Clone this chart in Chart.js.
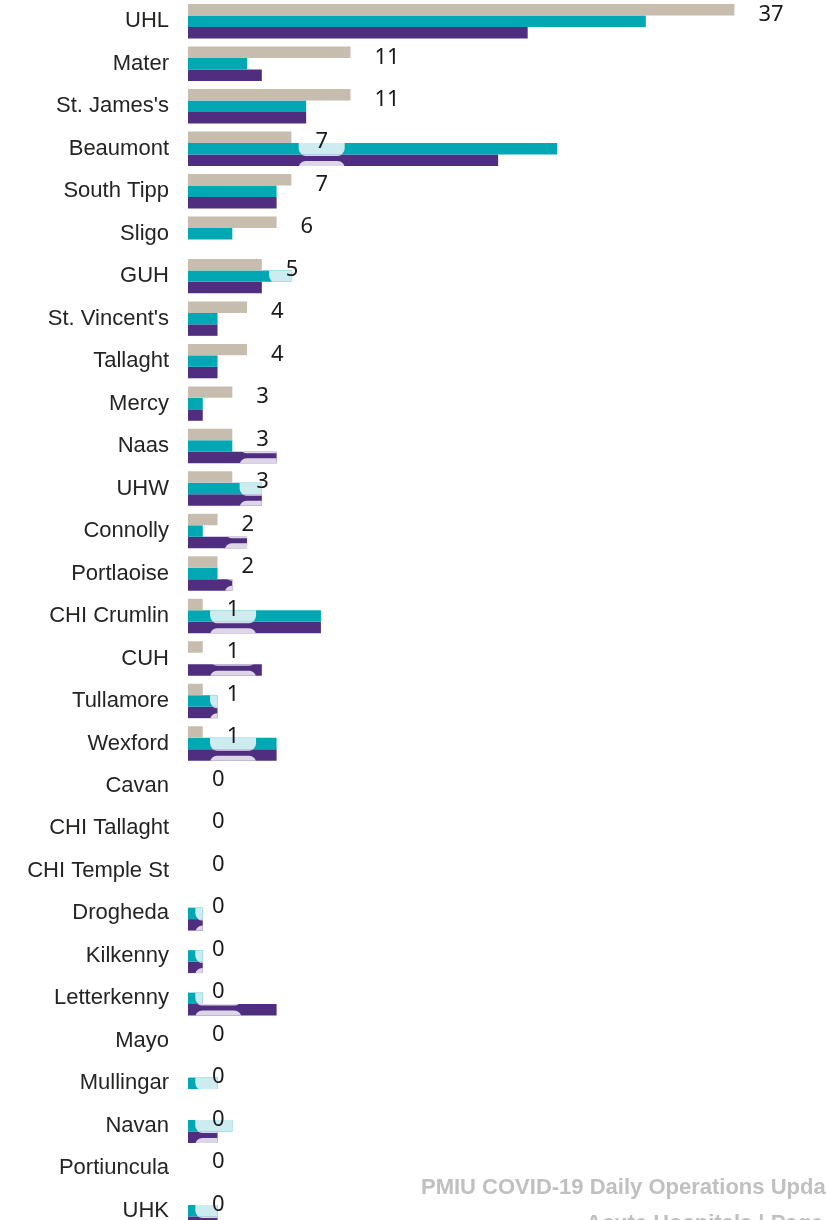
<!DOCTYPE html>
<html>
<head>
<meta charset="utf-8">
<script src="https://cdn.jsdelivr.net/npm/chart.js@4"></script>
<style>
  body { margin: 0; overflow: hidden; background: #fff; }
  #wrap { position: relative; width: 826px; height: 1220px; overflow: hidden; }
  .foot { position: absolute; font: bold 22px "Liberation Sans", Arial, sans-serif; color: #c0c0c0; white-space: nowrap; }
</style>
</head>
<body>
<div id="wrap">
  <canvas id="hospChart" width="826" height="1232"></canvas>
  <div class="foot" style="left:421px;top:1174px">PMIU COVID-19 Daily Operations Update</div>
  <div class="foot" style="left:586px;top:1210px">Acute Hospitals | Page 4</div>
</div>
<script>
const hospitals = ['UHL', 'Mater', "St. James's", 'Beaumont', 'South Tipp', 'Sligo', 'GUH', "St. Vincent's",
  'Tallaght', 'Mercy', 'Naas', 'UHW', 'Connolly', 'Portlaoise', 'CHI Crumlin', 'CUH', 'Tullamore', 'Wexford',
  'Cavan', 'CHI Tallaght', 'CHI Temple St', 'Drogheda', 'Kilkenny', 'Letterkenny', 'Mayo', 'Mullingar',
  'Navan', 'Portiuncula', 'UHK'];
const beigeVals  = [37, 11, 11, 7, 7, 6, 5, 4, 4, 3, 3, 3, 2, 2, 1, 1, 1, 1, 0, 0, 0, 0, 0, 0, 0, 0, 0, 0, 0];
const tealVals   = [31, 4, 8, 25, 6, 3, 7, 2, 2, 1, 3, 5, 1, 2, 9, 0, 2, 6, 0, 0, 0, 1, 1, 1, 0, 2, 3, 0, 2];
const purpleVals = [23, 5, 8, 21, 6, 0, 5, 2, 2, 1, 6, 5, 4, 3, 9, 5, 2, 6, 0, 0, 0, 1, 1, 6, 0, 0, 2, 0, 2];

const labelFont = '22px "Noto Sans", "Open Sans", sans-serif';

// light label backgrounds that show through on the teal / purple bars
const pillPlugin = {
  id: 'pills',
  afterDatasetsDraw(chart) {
    const ctx = chart.ctx;
    const beigeMeta = chart.getDatasetMeta(0);
    ctx.save();
    ctx.font = labelFont;
    beigeMeta.data.forEach((el, i) => {
      const txt = String(beigeVals[i]);
      const cx = el.x + 24 + ctx.measureText(txt).width / 2;
      [[1, '#cdecf0'], [2, '#ddd6e7']].forEach(([d, col]) => {
        const bar = chart.getDatasetMeta(d).data[i];
        if (!bar) return;
        const { x, y, base, height } = bar.getProps(['x', 'y', 'base', 'height'], true);
        if (x - base < 1) return;
        const top = y - height / 2;
        ctx.save();
        ctx.beginPath();
        ctx.rect(base, top, x - base, height);
        ctx.clip();
        ctx.fillStyle = col;
        ctx.beginPath();
        if (d === 1) {
          ctx.roundRect(cx - 23, top - 20, 46, height + 21, 7);
        } else {
          ctx.roundRect(cx - 23, top + height - 5, 46, 20, 7);
          ctx.roundRect(cx - 23, top - 20, 46, 21.5, 7);
        }
        ctx.fill();
        ctx.restore();
      });
    });
    ctx.restore();
  }
};

const valueLabels = {
  id: 'valueLabels',
  afterDatasetsDraw(chart) {
    const ctx = chart.ctx;
    ctx.save();
    ctx.font = labelFont;
    ctx.fillStyle = '#1a1a1a';
    ctx.textAlign = 'left';
    ctx.textBaseline = 'middle';
    chart.getDatasetMeta(0).data.forEach((el, i) => {
      ctx.fillText(String(beigeVals[i]), el.x + 24, el.y + 5);
    });
    ctx.restore();
  }
};

new Chart(document.getElementById('hospChart'), {
  type: 'bar',
  data: {
    labels: hospitals,
    datasets: [
      { data: beigeVals, backgroundColor: '#c6bdae' },
      { data: tealVals, backgroundColor: '#00a8b4' },
      { data: purpleVals, backgroundColor: '#4f2e7f' }
    ]
  },
  options: {
    indexAxis: 'y',
    responsive: false,
    animation: false,
    layout: { padding: 0 },
    datasets: { bar: { categoryPercentage: 0.81, barPercentage: 1.0, borderWidth: 0 } },
    plugins: { legend: { display: false }, tooltip: { enabled: false } },
    scales: {
      x: { display: false, min: 0, max: 43.2 },
      y: {
        grid: { display: false, drawTicks: false },
        border: { display: false },
        ticks: {
          padding: 19,
          color: '#252423',
          font: { family: '"Liberation Sans", Arial, sans-serif', size: 22 }
        },
        afterFit(scale) {
          scale.width = 188;
          scale.paddingTop = 0;
          scale.paddingBottom = 0;
        }
      }
    }
  },
  plugins: [pillPlugin, valueLabels]
});
</script>
</body>
</html>
